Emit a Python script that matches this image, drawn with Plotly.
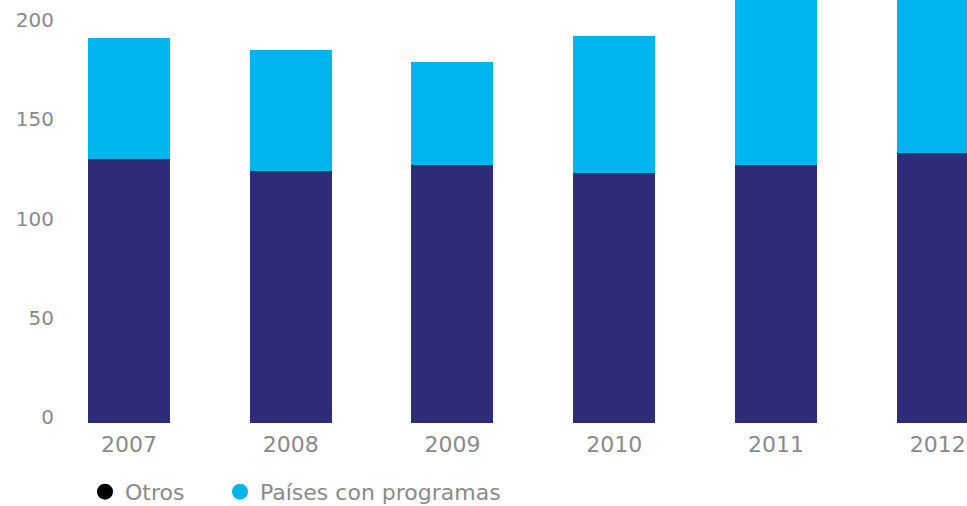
import plotly.graph_objects as go

# Stacked totals per year
years = ["2007", "2008", "2009", "2010", "2011", "2012"]
otros = [133, 127, 130, 126, 130, 136]
paises_con_programas = [61, 61, 52, 69, 95, 100]

y_ticks = [0, 50, 100, 150, 200]

NAVY = "#2e2b78"
CYAN = "#00b4ed"
GREY = "#8a8a8a"
FONT = "DejaVu Sans"

fig = go.Figure()

fig.add_trace(go.Bar(
    x=years, y=otros, name="Otros",
    marker=dict(color=NAVY, line=dict(width=0)),
    width=0.507, showlegend=False,
))
fig.add_trace(go.Bar(
    x=years, y=paises_con_programas, name="Países con programas",
    marker=dict(color=CYAN, line=dict(width=0)),
    width=0.507, showlegend=False,
))

# Legend entries drawn as round dots, one legend box each
fig.add_trace(go.Scatter(
    x=[None], y=[None], mode="markers", name="Otros",
    marker=dict(color="#000000", size=22, symbol="circle"),
    legend="legend",
))
fig.add_trace(go.Scatter(
    x=[None], y=[None], mode="markers", name="Países con programas",
    marker=dict(color=CYAN, size=22, symbol="circle"),
    legend="legend2",
))

legend_style = dict(
    orientation="h",
    xref="container", xanchor="left",
    y=0.028, yref="container", yanchor="middle",
    font=dict(family=FONT, size=22, color=GREY),
    itemsizing="trace",
    bgcolor="rgba(0,0,0,0)",
)

fig.update_layout(
    width=967, height=506,
    margin=dict(l=65, r=0, t=0, b=83, autoexpand=False),
    barmode="stack",
    plot_bgcolor="white",
    paper_bgcolor="white",
    font=dict(family=FONT, color=GREY),
    legend=dict(legend_style, x=85 / 967),
    legend2=dict(legend_style, x=220 / 967),
)

fig.update_xaxes(
    type="category",
    range=[-0.3957, 5.181],
    showgrid=False, zeroline=False, showline=False,
    ticks="",
    tickfont=dict(family=FONT, size=22, color=GREY),
    ticklabelstandoff=6,
)
fig.update_yaxes(
    range=[0, 213.1],
    tickvals=y_ticks,
    showgrid=False, zeroline=False, showline=False,
    ticks="",
    tickfont=dict(family=FONT, size=20, color=GREY),
    ticklabelstandoff=10,
    ticklabelshift=-6,
)

fig.write_html("out.html")
